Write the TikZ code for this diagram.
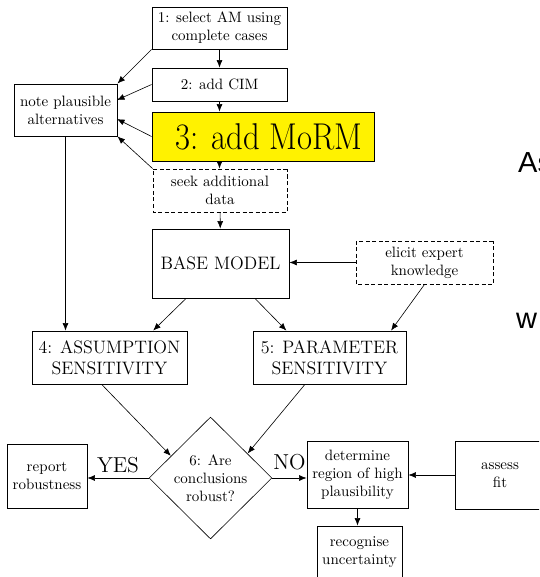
\documentclass[tikz,border=0pt]{standalone}
\usepackage{fontspec}
\newfontfamily\sansfrag{Liberation Sans}
\usetikzlibrary{shapes.geometric,arrows.meta,calc}
\begin{document}
\begin{tikzpicture}[x=1pt,y=-1pt,
  >={Latex[length=7.5pt,width=6pt]},
  box/.style={draw, rectangle, scale=1.5, inner sep=0pt, align=center, font=\normalsize, line width=0.6pt},
  dbox/.style={box, dash pattern=on 4pt off 2.5pt},
  sz/.style 2 args={minimum width={#1pt/1.5}, minimum height={#2pt/1.5}},
  conn/.style={->, line width=0.6pt},
  lbl/.style={scale=1.5, font=\Large, inner sep=0pt},
  frag/.style={anchor=base west, inner sep=0pt, font=\sansfrag\fontsize{29}{32}\selectfont}
]
\useasboundingbox (0,0) rectangle (539,577);
\clip (0,0) rectangle (539,577);

\node[box, sz={135}{42}] (s1) at (219.5,28) {1: select AM using\\complete cases};
\node[box, sz={135}{33}] (s2) at (219.5,84.5) {2: add CIM};
\node[box, sz={222}{49}, fill=yellow, font=\Huge] (s3) at (263,136.5) {\hspace*{8pt}\scalebox{0.875}[1]{3: add MoRM}};
\node[dbox, sz={134}{43}] (seek) at (220,190.5) {seek additional\\data};
\node[box, sz={103}{52}] (note) at (65.5,110) {note plausible\\alternatives};
\node[box, sz={137}{69}, font=\large] (base) at (220.5,263.5) {BASE MODEL};
\node[dbox, sz={137}{43}] (elicit) at (424.5,262.5) {elicit expert\\knowledge};
\node[box, sz={155}{53}, font=\large] (a4) at (109.5,357.5) {4: ASSUMPTION\\SENSITIVITY};
\node[box, sz={153}{53}, font=\large] (p5) at (329.5,357.5) {5: PARAMETER\\SENSITIVITY};
\node[box, diamond, sz={123}{122}] (d) at (210.5,478) {6: Are\\conclusions\\robust?};
\node[box, sz={80}{64}] (rep) at (47,476) {report\\robustness};
\node[box, sz={101}{67}] (det) at (357.5,474.5) {determine\\region of high\\plausibility};
\node[box, sz={90}{68}] (fit) at (500,475) {assess\\fit};
\node[box, sz={85}{53}] (rec) at (359.5,552.5) {recognise\\uncertainty};

\node[frag] (as) at (518,173) {As};
\node[frag] (w) at (516,328) {w};

\coordinate (n1) at (117,100);
\coordinate (n2) at (117,119);

\draw[conn] (s1) -- (s2);
\draw[conn] (s2.south) -- (s2.south |- s3.north);
\draw[conn] (s2.south |- s3.south) -- (s2.south |- seek.north);
\draw[conn] (seek) -- (base);
\draw[conn] (s1.south west) -- (note.north east);
\draw[conn] (s2.west) -- (n1);
\draw[conn] (s3.west) -- (n2);
\draw[conn] (seek.north west) -- (note.south east);
\draw[conn] (note.south) -- (note.south |- a4.north);
\draw[conn] ($(base.south west)!0.25!(base.south east)$) -- ($(a4.north west)!0.78!(a4.north east)$);
\draw[conn] ($(base.south west)!0.75!(base.south east)$) -- ($(p5.north west)!0.22!(p5.north east)$);
\draw[conn] (elicit.west) -- (elicit.west -| base.east);
\draw[conn] (elicit.south) -- ($(p5.north west)!0.9!(p5.north east)$);
\draw[conn] ($(a4.south west)!0.45!(a4.south east)$) -- ($(d.west)!0.36!(d.north)$);
\draw[conn] ($(p5.south west)!0.34!(p5.south east)$) -- ($(d.north)!0.6!(d.east)$);
\draw[conn] (d.west) -- node[lbl, above=3pt] (yes) {YES} (d.west -| rep.east);
\draw[conn] (d.east) -- node[lbl, above=5pt] (no) {NO} (d.east -| det.west);
\draw[conn] (fit.west) -- (fit.west -| det.east);
\draw[conn] (det.south) -- (det.south |- rec.north);
\end{tikzpicture}
\end{document}
